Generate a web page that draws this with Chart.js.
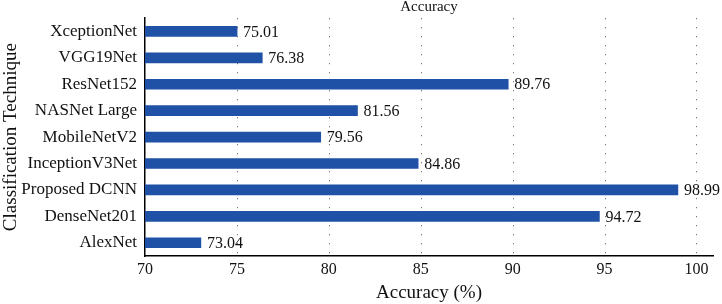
<!DOCTYPE html>
<html lang="en">
<head>
  <meta charset="UTF-8" />
  <title>Accuracy</title>
  <style>
    html, body { margin: 0; padding: 0; background: #fff; }
    #wrap { width: 722px; height: 304px; }
  </style>
</head>
<body>
  <div id="wrap"><canvas id="graficoAccuracy" width="722" height="304"></canvas></div>

<script src="https://cdn.jsdelivr.net/npm/chart.js@4.4.0/dist/chart.umd.min.js"></script>
<script>
  // data
  const tecnicas = ['XceptionNet', 'VGG19Net', 'ResNet152', 'NASNet Large', 'MobileNetV2',
                    'InceptionV3Net', 'Proposed DCNN', 'DenseNet201', 'AlexNet'];
  const precision = [75.01, 76.38, 89.76, 81.56, 79.56, 84.86, 98.99, 94.72, 73.04];
  const ticksX = [70, 75, 80, 85, 90, 95, 100];

  const fuente = "'Liberation Serif', 'DejaVu Serif', serif";

  // labels next to the end of every bar + title centered over the plot
  const etiquetas = {
    id: 'etiquetas',
    afterDatasetsDraw(chart) {
      const { ctx, chartArea } = chart;
      const meta = chart.getDatasetMeta(0);
      ctx.save();
      ctx.font = '16px ' + fuente;
      ctx.fillStyle = '#111';
      ctx.textAlign = 'left';
      ctx.textBaseline = 'middle';
      meta.data.forEach((bar, i) => {
        ctx.fillText(precision[i].toFixed(2), bar.x + 6, bar.y + 1);
      });
      ctx.font = '15px ' + fuente;
      ctx.textAlign = 'center';
      ctx.fillText('Accuracy', (chartArea.left + chartArea.right) / 2, 7);
      ctx.restore();
    }
  };

  new Chart(document.getElementById('graficoAccuracy'), {
    type: 'bar',
    data: {
      labels: tecnicas,
      datasets: [{
        data: precision,
        backgroundColor: '#1f51a6',
        barThickness: 10,
        base: 70
      }]
    },
    options: {
      indexAxis: 'y',
      responsive: false,
      animation: false,
      devicePixelRatio: 1,
      layout: { padding: { left: 0, right: 9, top: 17, bottom: 0 } },
      plugins: {
        legend: { display: false },
        tooltip: { enabled: false },
        title: { display: false }
      },
      scales: {
        x: {
          min: 70,
          max: 100.9,
          afterBuildTicks: axis => {
            axis.ticks = ticksX.map(v => ({ value: v }));
          },
          afterFit: scale => { scale.height = 48; },
          border: { display: true, color: '#000', width: 1.5 },
          grid: { display: false, drawTicks: false },
          ticks: {
            color: '#111',
            padding: 4,
            font: { family: fuente, size: 16 }
          },
          title: {
            display: true,
            text: 'Accuracy (%)',
            color: '#111',
            font: { family: fuente, size: 19 },
            padding: { top: 2, bottom: 0 }
          }
        },
        y: {
          afterFit: scale => { scale.width = 145; },
          border: { display: true, color: '#000', width: 1.5 },
          grid: { display: false, drawTicks: false },
          ticks: {
            color: '#111',
            padding: 8,
            font: { family: fuente, size: 17 }
          },
          title: {
            display: true,
            text: 'Classification Technique',
            color: '#111',
            font: { family: fuente, size: 19 },
            padding: { top: 0, bottom: 2 }
          }
        }
      }
    },
    plugins: [etiquetas, {
      id: 'rejillaPunteada',
      beforeDatasetsDraw(chart) {
        // dotted vertical grid lines
        const { ctx, chartArea, scales } = chart;
        ctx.save();
        ctx.strokeStyle = '#555';
        ctx.lineWidth = 1;
        ctx.setLineDash([1, 8]);
        ticksX.slice(1).forEach(v => {
          const x = Math.round(scales.x.getPixelForValue(v)) + 0.5;
          ctx.beginPath();
          ctx.moveTo(x, chartArea.top);
          ctx.lineTo(x, chartArea.bottom);
          ctx.stroke();
        });
        ctx.restore();
      }
    }]
  });
</script>
</body>
</html>
